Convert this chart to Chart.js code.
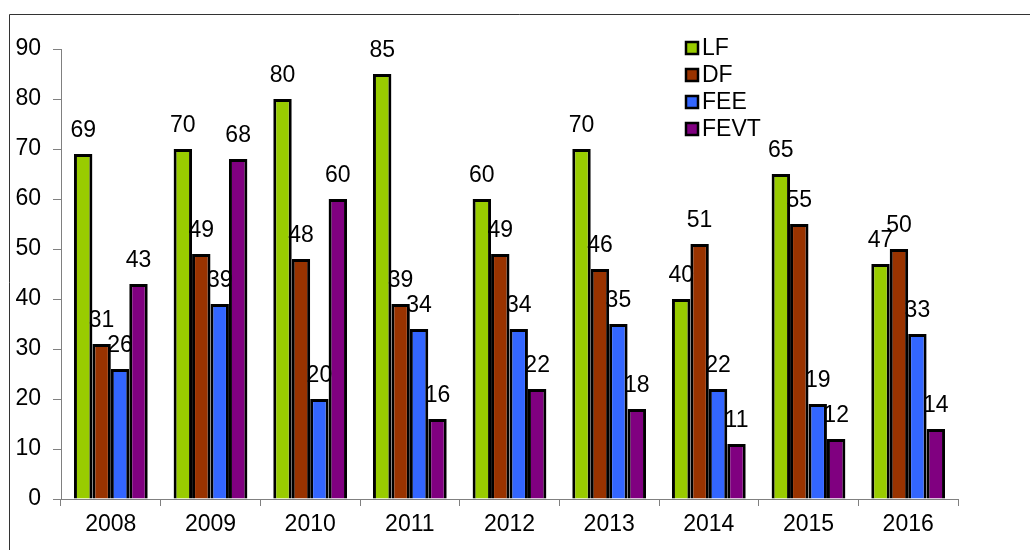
<!DOCTYPE html>
<html>
<head>
<meta charset="utf-8">
<script src="https://cdn.jsdelivr.net/npm/chart.js@4"></script>
<style>
  html, body { margin: 0; padding: 0; background: #fff; }
  #wrap { position: relative; width: 1030px; height: 550px; }
</style>
</head>
<body>
<div id="wrap"><canvas id="chart" width="1030" height="550"></canvas></div>
<script>
// chart data
const years = ["2008", "2009", "2010", "2011", "2012", "2013", "2014", "2015", "2016"];
const lf   = [69, 70, 80, 85, 60, 70, 40, 65, 47];
const df   = [31, 49, 48, 39, 49, 46, 51, 55, 50];
const fee  = [26, 39, 20, 34, 34, 35, 22, 19, 33];
const fevt = [43, 68, 60, 16, 22, 18, 11, 12, 14];
const yTicks = [0, 10, 20, 30, 40, 50, 60, 70, 80, 90];

const FONT = "'Liberation Sans', Arial, sans-serif";
const FSIZE = 23;

// frame line top + left, like the original picture border
const framePlugin = {
    id: 'frame',
    beforeDraw(chart) {
        const c = chart.ctx;
        c.save();
        c.strokeStyle = '#333';
        c.lineWidth = 1;
        c.beginPath();
        c.moveTo(9.5, 550);
        c.lineTo(9.5, 14.5);
        c.lineTo(1030, 14.5);
        c.stroke();
        c.restore();
    }
};

// value labels above each bar
const labelPlugin = {
    id: 'valueLabels',
    afterDatasetsDraw(chart) {
        const c = chart.ctx;
        c.save();
        c.font = FSIZE + 'px ' + FONT;
        c.fillStyle = '#000';
        c.textAlign = 'center';
        c.textBaseline = 'alphabetic';
        chart.data.datasets.forEach((ds, i) => {
            chart.getDatasetMeta(i).data.forEach((bar, j) => {
                c.fillText(ds.data[j], bar.x, bar.y - 17);
            });
        });
        c.restore();
    }
};

// legend inside the plot, top right
const legendPlugin = {
    id: 'boxLegend',
    afterDraw(chart) {
        const c = chart.ctx;
        c.save();
        c.font = FSIZE + 'px ' + FONT;
        c.textBaseline = 'middle';
        chart.data.datasets.forEach((ds, i) => {
            const y = 48 + i * 27;
            c.fillStyle = ds.backgroundColor;
            c.fillRect(686, y - 6, 12, 12);
            c.strokeStyle = '#000';
            c.lineWidth = 2.5;
            c.strokeRect(686, y - 6, 12, 12);
            c.fillStyle = '#000';
            c.fillText(ds.label, 702, y + 1);
        });
        c.restore();
    }
};

const mkSet = (label, data, color) => ({
    label: label, data: data, backgroundColor: color,
    borderColor: '#000', borderWidth: 3,
    categoryPercentage: 0.74, barPercentage: 1.0
});

new Chart(document.getElementById('chart'), {
    type: 'bar',
    data: {
        labels: years,
        datasets: [
            mkSet('LF', lf, '#99CC00'),
            mkSet('DF', df, '#993300'),
            mkSet('FEE', fee, '#3366FF'),
            mkSet('FEVT', fevt, '#800080')
        ]
    },
    options: {
        responsive: false,
        animation: false,
        layout: { padding: { top: 49, right: 72, left: 0, bottom: 0 } },
        plugins: { legend: { display: false }, tooltip: { enabled: false } },
        scales: {
            x: {
                grid: { drawOnChartArea: false, drawTicks: true, tickLength: 7, color: '#808080', offset: true },
                border: { color: '#808080', width: 1 },
                ticks: { color: '#000', font: { family: FONT, size: FSIZE }, padding: 5 },
                afterFit(scale) { scale.height = 51; }
            },
            y: {
                min: 0, max: 90,
                afterBuildTicks(scale) { scale.ticks = yTicks.map(v => ({ value: v })); },
                grid: { drawOnChartArea: false, drawTicks: true, tickLength: 8, color: '#808080' },
                border: { color: '#808080', width: 1 },
                ticks: { color: '#000', font: { family: FONT, size: FSIZE }, padding: 12 },
                afterFit(scale) { scale.width = 61; }
            }
        }
    },
    plugins: [framePlugin, labelPlugin, legendPlugin]
});
</script>
</body>
</html>
